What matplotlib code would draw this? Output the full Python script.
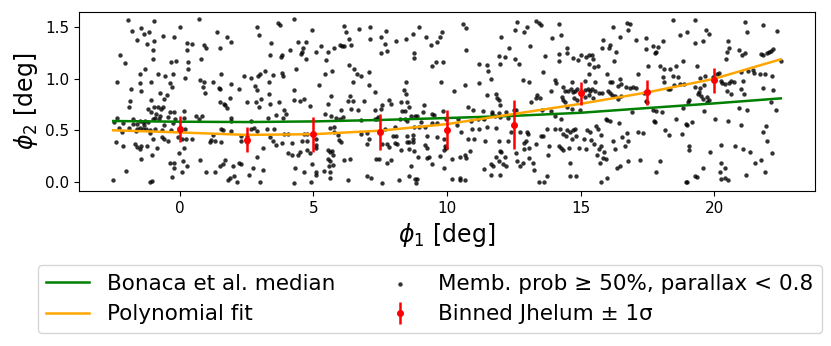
import matplotlib
matplotlib.use("Agg")
import matplotlib.pyplot as plt

# Member stars (phi1, phi2) in deg
members = [
    # phi1 -2.8 .. 0.3
    (-1.94, 1.57), (-0.97, 1.56), (0.01, 1.50), (-1.79, 1.46), (-1.47, 1.49), (-1.35, 1.44), (-1.17, 1.45),
    (-0.64, 1.42), (-0.21, 1.41), (-1.60, 1.38), (-1.24, 1.34), (-0.97, 1.37), (0.26, 1.35), (0.26, 1.28),
    (-1.02, 1.28), (-2.26, 1.23), (-1.02, 1.19), (-2.07, 1.15), (-0.35, 1.16), (-0.16, 1.17), (0.31, 1.16),
    (-1.31, 1.10), (0.30, 1.10), (-1.51, 1.05), (-0.81, 1.05), (-0.55, 1.03), (-0.27, 1.05), (0.19, 1.01),
    (-2.36, 0.97), (-1.49, 0.96), (-1.10, 0.97), (-0.38, 0.96), (-1.85, 0.90), (-0.31, 0.92), (-1.46, 0.88),
    (-0.73, 0.86), (-0.50, 0.84), (-1.86, 0.78), (-0.59, 0.80), (-1.09, 0.79), (-1.89, 0.73), (-1.19, 0.71),
    (-0.96, 0.73), (-0.81, 0.73), (-0.62, 0.73), (-0.70, 0.71), (-0.36, 0.68), (-0.24, 0.68), (0.14, 0.69),
    (-0.90, 0.66), (-1.07, 0.68), (-2.36, 0.62), (-0.44, 0.63), (-0.19, 0.61), (0.14, 0.62), (-1.76, 0.61),
    (-1.50, 0.59), (-1.29, 0.59), (-1.19, 0.58), (-1.02, 0.61), (-0.94, 0.62), (-0.80, 0.61), (-0.73, 0.64),
    (-2.46, 0.58), (-2.14, 0.57), (-1.76, 0.56), (-1.59, 0.56), (-1.39, 0.58), (-0.61, 0.55), (-0.25, 0.57),
    (-1.34, 0.55), (-2.29, 0.52), (-1.91, 0.52), (-1.59, 0.51), (-1.49, 0.52), (-1.39, 0.51), (-1.26, 0.51),
    (-1.14, 0.50), (-0.94, 0.51), (-0.66, 0.50), (-0.34, 0.50), (0.19, 0.51), (-2.16, 0.48), (-1.66, 0.49),
    (-1.11, 0.47), (-1.02, 0.42), (-0.66, 0.43), (-0.59, 0.42), (-0.44, 0.40), (-2.41, 0.39), (-1.70, 0.37),
    (-1.46, 0.35), (-1.24, 0.35), (-0.86, 0.33), (-0.06, 0.43), (0.06, 0.42), (0.24, 0.42), (-2.14, 0.35),
    (-1.61, 0.34), (-1.51, 0.32), (0.14, 0.33), (-1.44, 0.22), (-1.05, 0.26), (-0.05, 0.28), (-0.36, 0.18),
    (-0.21, 0.18), (0.11, 0.20), (-0.24, 0.13), (0.26, 0.15), (-2.01, 0.10), (0.09, 0.09), (-0.31, 0.05),
    (-2.51, 0.02), (-1.14, 0.00), (-1.06, 0.01),
    # phi1 0.3 .. 3.4
    (0.70, 1.58), (2.90, 1.50), (2.97, 1.43), (1.37, 1.45), (1.76, 1.41), (1.92, 1.36), (0.47, 1.34),
    (0.90, 1.33), (0.99, 1.30), (1.50, 1.30), (3.40, 1.35), (0.80, 1.19), (3.37, 1.23), (1.55, 1.05),
    (2.40, 1.03), (2.65, 1.01), (2.92, 1.03), (3.00, 1.05), (3.17, 1.08), (0.75, 0.99), (0.90, 0.97),
    (1.25, 0.97), (1.90, 0.95), (1.47, 0.91), (1.50, 0.90), (2.22, 0.90), (2.82, 0.93), (2.87, 0.89),
    (3.35, 0.97), (0.85, 0.92), (0.95, 0.86), (3.35, 0.85), (1.87, 0.81), (3.02, 0.80), (1.50, 0.77),
    (1.65, 0.76), (1.70, 0.75), (1.75, 0.72), (2.52, 0.77), (2.85, 0.77), (2.97, 0.73), (3.37, 0.76),
    (0.60, 0.64), (0.82, 0.64), (0.70, 0.61), (1.92, 0.62), (1.92, 0.59), (2.67, 0.59), (3.30, 0.62),
    (1.52, 0.51), (1.62, 0.50), (1.92, 0.49), (1.22, 0.45), (2.65, 0.51), (2.77, 0.52), (2.90, 0.49),
    (3.27, 0.51), (2.30, 0.44), (2.30, 0.40), (2.50, 0.44), (2.52, 0.39), (0.47, 0.42), (1.12, 0.39),
    (1.30, 0.40), (1.52, 0.39), (1.17, 0.41), (3.37, 0.43), (3.12, 0.33), (2.90, 0.24), (0.75, 0.21),
    (1.70, 0.21), (1.62, 0.17), (1.50, 0.15), (1.97, 0.15), (2.22, 0.18), (2.30, 0.17), (2.72, 0.13),
    (3.10, 0.11), (0.97, 0.09), (1.32, 0.09), (2.02, 0.06), (1.80, 0.02), (1.87, 0.04), (2.60, 0.07),
    (2.15, 0.00), (3.00, 0.00),
    # phi1 3.4 .. 6.5
    (4.28, 1.58), (3.66, 1.54), (3.76, 1.52), (4.93, 1.47), (6.16, 1.51), (6.23, 1.45), (6.33, 1.39),
    (4.43, 1.36), (4.71, 1.36), (4.61, 1.30), (4.56, 1.26), (4.53, 1.24), (4.71, 1.19), (5.08, 1.26),
    (5.28, 1.32), (5.78, 1.30), (5.98, 1.33), (6.08, 1.32), (6.16, 1.32), (6.41, 1.33), (5.53, 1.26),
    (4.11, 1.28), (3.81, 1.23), (3.78, 1.21), (5.46, 1.18), (6.33, 1.13), (4.33, 1.10), (3.48, 1.04),
    (3.83, 1.06), (3.86, 1.03), (5.43, 1.05), (5.68, 1.08), (6.51, 1.10), (6.48, 0.97), (5.21, 0.94),
    (4.26, 0.89), (5.66, 0.83), (6.38, 0.83), (6.48, 0.78), (6.31, 0.78), (4.26, 0.79), (4.51, 0.78),
    (4.63, 0.80), (4.86, 0.74), (5.53, 0.76), (3.71, 0.77), (3.91, 0.70), (3.96, 0.66), (3.86, 0.62),
    (3.58, 0.65), (6.03, 0.70), (6.41, 0.71), (5.86, 0.62), (6.01, 0.61), (5.43, 0.66), (5.66, 0.64),
    (6.11, 0.63), (3.53, 0.51), (5.61, 0.52), (5.78, 0.53), (3.91, 0.46), (3.83, 0.38), (3.61, 0.36),
    (3.48, 0.40), (4.06, 0.46), (4.63, 0.46), (4.76, 0.46), (4.58, 0.40), (4.76, 0.40), (5.78, 0.48),
    (5.91, 0.45), (5.96, 0.41), (6.03, 0.39), (4.21, 0.38), (5.11, 0.42), (5.11, 0.36), (5.08, 0.33),
    (4.76, 0.31), (4.51, 0.29), (4.88, 0.28), (4.06, 0.28), (4.18, 0.26), (4.43, 0.26), (5.53, 0.31),
    (5.61, 0.29), (5.71, 0.30), (5.73, 0.26), (5.53, 0.22), (5.61, 0.20), (6.16, 0.21), (6.38, 0.22),
    (4.93, 0.17), (4.31, 0.13), (4.66, 0.09), (5.11, 0.09), (5.11, 0.07), (5.38, 0.10), (5.58, 0.15),
    (5.73, 0.16), (5.61, 0.09), (5.61, 0.04), (6.31, 0.02), (4.28, -0.01), (4.91, 0.00),
    # phi1 6.5 .. 9.6
    (6.69, 1.48), (7.12, 1.50), (7.12, 1.39), (7.52, 1.41), (7.72, 1.46), (8.09, 1.37), (8.47, 1.39),
    (8.72, 1.44), (8.94, 1.50), (9.22, 1.41), (9.39, 1.33), (9.62, 1.36), (7.69, 1.34), (7.74, 1.27),
    (7.54, 1.25), (8.77, 1.25), (8.77, 1.20), (9.59, 1.16), (9.44, 1.12), (6.62, 1.05), (6.77, 1.03),
    (7.09, 1.07), (7.09, 0.94), (7.29, 0.87), (8.47, 0.97), (8.39, 0.89), (8.47, 0.85), (6.89, 0.78),
    (7.82, 0.79), (7.89, 0.76), (7.57, 0.75), (8.27, 0.77), (8.52, 0.77), (8.42, 0.69), (8.57, 0.73),
    (8.32, 0.69), (6.67, 0.70), (7.29, 0.70), (7.52, 0.71), (9.14, 0.75), (8.64, 0.64), (8.79, 0.64),
    (8.89, 0.64), (9.12, 0.68), (9.44, 0.66), (9.52, 0.65), (8.44, 0.61), (8.52, 0.59), (8.24, 0.61),
    (9.02, 0.58), (6.77, 0.60), (7.32, 0.61), (7.42, 0.63), (7.37, 0.61), (8.77, 0.53), (8.97, 0.53),
    (9.19, 0.53), (9.42, 0.57), (9.62, 0.57), (7.67, 0.51), (8.04, 0.53), (6.77, 0.46), (7.02, 0.47),
    (7.07, 0.42), (7.99, 0.44), (8.09, 0.44), (8.52, 0.44), (8.74, 0.45), (9.24, 0.44), (9.62, 0.43),
    (6.99, 0.37), (7.57, 0.37), (7.74, 0.37), (7.82, 0.34), (8.04, 0.38), (8.12, 0.37), (8.49, 0.39),
    (8.59, 0.39), (8.74, 0.42), (8.74, 0.39), (8.29, 0.31), (8.59, 0.32), (8.77, 0.30), (9.19, 0.36),
    (9.24, 0.33), (7.34, 0.22), (7.44, 0.22), (7.89, 0.21), (7.77, 0.18), (8.92, 0.24), (9.24, 0.23),
    (9.32, 0.24), (8.67, 0.15), (9.44, 0.17), (6.99, 0.06), (7.14, 0.04), (7.57, -0.01), (8.19, 0.02),
    (8.57, 0.06), (8.79, 0.03), (8.84, -0.01), (8.89, 0.03),
    # phi1 9.6 .. 12.7
    (10.60, 1.53), (10.70, 1.49), (12.63, 1.55), (12.55, 1.47), (9.75, 1.41), (9.83, 1.45), (12.03, 1.41),
    (12.33, 1.30), (10.73, 1.28), (11.95, 1.22), (12.18, 1.21), (12.55, 1.19), (12.70, 1.14), (9.85, 1.16),
    (11.18, 1.14), (11.48, 1.13), (11.55, 1.08), (11.98, 1.14), (9.78, 0.97), (11.20, 0.96), (11.63, 1.00),
    (10.68, 0.94), (10.25, 0.88), (11.50, 0.84), (11.83, 0.85), (11.88, 0.81), (11.93, 0.79), (11.98, 0.75),
    (9.85, 0.69), (10.78, 0.73), (10.98, 0.70), (11.33, 0.69), (11.70, 0.68), (11.93, 0.67), (12.20, 0.68),
    (12.50, 0.70), (12.60, 0.70), (9.95, 0.61), (10.43, 0.61), (10.88, 0.59), (11.15, 0.61), (11.33, 0.62),
    (11.38, 0.61), (11.68, 0.66), (11.78, 0.64), (11.98, 0.63), (12.28, 0.62), (10.38, 0.55), (10.93, 0.51),
    (11.20, 0.51), (11.50, 0.53), (11.83, 0.52), (10.53, 0.48), (9.90, 0.42), (10.78, 0.42), (11.00, 0.42),
    (11.43, 0.40), (11.95, 0.40), (12.28, 0.40), (12.40, 0.48), (12.75, 0.48), (9.93, 0.35), (9.98, 0.33),
    (9.88, 0.31), (9.73, 0.25), (10.85, 0.30), (11.98, 0.30), (12.03, 0.29), (11.83, 0.24), (12.18, 0.24),
    (12.60, 0.28), (12.63, 0.20), (10.18, 0.22), (10.50, 0.24), (10.68, 0.26), (10.70, 0.23), (9.88, 0.13),
    (11.63, 0.17), (11.73, 0.15), (11.93, 0.20), (12.10, 0.17), (12.20, 0.15), (12.73, 0.15), (11.38, 0.12),
    (11.98, 0.07), (10.20, 0.03), (10.48, 0.04), (10.50, 0.02), (10.68, 0.02), (11.63, 0.07),
    # phi1 12.7 .. 15.8
    (13.35, 1.56), (13.45, 1.54), (13.53, 1.52), (14.20, 1.53), (12.98, 1.50), (12.90, 1.45), (14.28, 1.43),
    (13.93, 1.40), (13.10, 1.32), (14.50, 1.30), (15.80, 1.30), (15.83, 1.38), (13.68, 1.22), (14.18, 1.24),
    (14.48, 1.25), (15.03, 1.23), (15.20, 1.21), (15.33, 1.23), (15.43, 1.23), (14.73, 1.20), (14.90, 1.18),
    (14.20, 1.17), (15.48, 1.19), (15.30, 1.14), (15.50, 1.11), (15.65, 1.12), (13.60, 1.07), (15.30, 1.05),
    (12.85, 0.99), (13.08, 0.97), (14.03, 0.99), (14.10, 0.96), (14.68, 0.97), (15.15, 0.98), (15.55, 0.97),
    (14.35, 0.92), (14.40, 0.88), (14.53, 0.88), (14.63, 0.90), (14.70, 0.87), (14.80, 0.88), (14.88, 0.90),
    (15.15, 0.89), (15.28, 0.90), (15.35, 0.88), (15.43, 0.90), (15.55, 0.88), (15.70, 0.86), (15.80, 0.86),
    (13.88, 0.88), (13.38, 0.84), (13.48, 0.81), (13.33, 0.81), (13.13, 0.77), (14.30, 0.82), (14.35, 0.79),
    (14.43, 0.77), (14.75, 0.81), (14.85, 0.79), (15.18, 0.82), (15.33, 0.84), (15.45, 0.81), (14.50, 0.73),
    (14.68, 0.71), (14.98, 0.70), (13.55, 0.70), (13.90, 0.69), (14.05, 0.64), (14.28, 0.61), (12.98, 0.48),
    (12.95, 0.40), (13.03, 0.46), (13.73, 0.51), (14.03, 0.51), (14.25, 0.51), (14.35, 0.46), (14.50, 0.50),
    (14.60, 0.48), (14.70, 0.50), (14.83, 0.44), (14.68, 0.42), (14.45, 0.44), (14.80, 0.51), (15.13, 0.42),
    (15.25, 0.50), (15.35, 0.48), (15.38, 0.41), (15.58, 0.54), (15.65, 0.51), (15.78, 0.45), (13.53, 0.44),
    (13.58, 0.44), (12.90, 0.38), (12.88, 0.32), (13.08, 0.33), (13.33, 0.37), (13.83, 0.35), (14.20, 0.35),
    (14.28, 0.33), (14.33, 0.31), (14.58, 0.33), (14.95, 0.33), (15.20, 0.32), (15.50, 0.37), (15.70, 0.32),
    (15.78, 0.35), (13.08, 0.23), (12.85, 0.18), (13.23, 0.18), (13.25, 0.11), (13.80, 0.26), (14.60, 0.18),
    (15.63, 0.26), (15.83, 0.23), (15.73, 0.18), (14.60, 0.06), (14.83, 0.06), (15.78, 0.00), (13.43, 0.00),
    (13.65, 0.00), (13.75, 0.06),
    # phi1 15.8 .. 18.9
    (16.21, 1.50), (16.74, 1.54), (16.86, 1.53), (16.76, 1.47), (16.46, 1.41), (18.46, 1.57), (18.74, 1.43),
    (17.44, 1.40), (17.09, 1.38), (18.09, 1.37), (16.11, 1.33), (16.06, 1.30), (16.34, 1.26), (17.44, 1.29),
    (17.71, 1.32), (17.91, 1.31), (17.84, 1.26), (17.79, 1.25), (16.26, 1.17), (18.84, 1.17), (17.54, 1.12),
    (17.99, 1.12), (18.14, 1.10), (18.34, 1.10), (18.59, 1.12), (18.64, 1.02), (18.46, 1.03), (18.09, 1.02),
    (18.14, 0.97), (15.99, 1.05), (17.16, 1.05), (16.09, 0.97), (16.19, 0.97), (16.46, 1.00), (16.51, 0.95),
    (16.41, 0.93), (16.71, 0.92), (16.84, 0.91), (16.96, 0.92), (17.09, 0.91), (18.29, 0.90), (18.36, 0.90),
    (18.49, 0.94), (18.71, 0.95), (18.89, 0.95), (16.04, 0.88), (16.11, 0.86), (16.16, 0.84), (16.29, 0.83),
    (16.41, 0.80), (16.51, 0.83), (17.39, 0.86), (17.46, 0.78), (17.49, 0.77), (16.91, 0.68), (17.71, 0.70),
    (17.84, 0.69), (18.04, 0.68), (18.84, 0.72), (15.94, 0.61), (16.01, 0.60), (16.11, 0.59), (16.44, 0.57),
    (17.74, 0.59), (17.79, 0.58), (18.56, 0.61), (18.94, 0.56), (17.14, 0.48), (17.34, 0.47), (18.16, 0.50),
    (18.31, 0.45), (18.79, 0.46), (16.54, 0.43), (16.76, 0.40), (16.74, 0.47), (16.21, 0.40), (16.66, 0.35),
    (16.29, 0.32), (15.89, 0.29), (15.96, 0.22), (16.76, 0.20), (17.21, 0.21), (17.96, 0.20), (16.49, 0.15),
    (16.36, 0.13), (17.81, 0.09), (15.99, 0.04), (18.96, 0.00),
    # phi1 18.9 .. 22.5
    (19.30, 1.57), (21.15, 1.55), (21.85, 1.52), (18.97, 1.45), (19.70, 1.47), (19.80, 1.44), (21.25, 1.45),
    (22.35, 1.46), (19.30, 1.35), (19.57, 1.37), (20.52, 1.37), (20.57, 1.30), (20.47, 1.26), (20.45, 1.19),
    (20.95, 1.28), (21.15, 1.25), (21.05, 1.23), (21.75, 1.24), (21.85, 1.23), (22.00, 1.25), (22.07, 1.26),
    (22.22, 1.29), (22.15, 1.27), (19.35, 1.12), (22.50, 1.17), (20.17, 1.06), (20.10, 1.05), (19.47, 1.01),
    (19.65, 1.03), (19.95, 1.02), (21.02, 1.07), (21.27, 1.08), (21.45, 1.09), (21.50, 1.06), (21.72, 1.05),
    (21.90, 1.05), (22.17, 1.03), (19.27, 0.92), (19.47, 0.91), (19.62, 0.94), (19.45, 0.87), (19.40, 0.85),
    (19.52, 0.83), (19.57, 0.80), (19.75, 0.82), (20.25, 0.98), (20.30, 0.96), (20.40, 0.95), (20.55, 0.96),
    (20.62, 0.98), (20.75, 0.97), (21.10, 0.98), (21.02, 0.90), (21.12, 0.85), (21.85, 0.91), (22.20, 0.89),
    (20.50, 0.88), (20.62, 0.85), (19.07, 0.79), (19.02, 0.77), (19.80, 0.79), (19.75, 0.77), (20.92, 0.72),
    (21.22, 0.70), (22.15, 0.77), (22.32, 0.70), (19.62, 0.69), (20.05, 0.61), (19.17, 0.58), (20.52, 0.59),
    (21.00, 0.55), (18.97, 0.55), (21.95, 0.54), (21.82, 0.48), (21.97, 0.40), (19.05, 0.35), (19.07, 0.31),
    (19.85, 0.29), (20.27, 0.36), (20.77, 0.35), (21.10, 0.32), (21.35, 0.29), (22.17, 0.28), (21.55, 0.18),
    (21.77, 0.21), (20.25, 0.18), (20.22, 0.09), (20.40, 0.13), (19.57, 0.13), (19.27, 0.06), (19.35, 0.05),
    (21.20, 0.07), (21.92, 0.09), (20.27, 0.03), (20.42, 0.04), (20.52, 0.02), (19.00, 0.00),
]

# Bonaca et al. median track
bonaca_phi1 = [-2.5, 0.0, 2.5, 5.0, 7.5, 10.0, 12.5, 15.0, 17.5, 20.0, 22.5]
bonaca_phi2 = [0.59, 0.583, 0.58, 0.586, 0.60, 0.619, 0.64, 0.67, 0.716, 0.761, 0.81]

# Polynomial fit track
poly_phi1 = [-2.5, 0.0, 2.5, 5.0, 7.5, 10.0, 12.5, 15.0, 17.5, 20.0, 22.5]
poly_phi2 = [0.50, 0.479, 0.455, 0.462, 0.496, 0.56, 0.658, 0.757, 0.868, 1.00, 1.19]

# Binned Jhelum points
bin_phi1 = [0.0, 2.5, 5.0, 7.5, 10.0, 12.5, 15.0, 17.5, 20.0]
bin_phi2 = [0.51, 0.41, 0.46, 0.485, 0.505, 0.555, 0.86, 0.87, 0.985]
bin_err = [0.125, 0.12, 0.17, 0.175, 0.19, 0.235, 0.11, 0.12, 0.12]

xticks = [0, 5, 10, 15, 20]
yticks = [0.0, 0.5, 1.0, 1.5]

mem_phi1 = [p[0] for p in members]
mem_phi2 = [p[1] for p in members]

W, H = 831, 346
fig = plt.figure(figsize=(W / 100, H / 100), dpi=100)
ax = fig.add_axes([79 / W, 1 - 191 / H, (815 - 79) / W, (191 - 11.7) / H])

sc = ax.scatter(mem_phi1, mem_phi2, s=10, color="black", alpha=0.8, linewidths=0,
                label="Memb. prob \u2265 50%, parallax < 0.8", zorder=1)
l1, = ax.plot(bonaca_phi1, bonaca_phi2, color="green", lw=1.8, label="Bonaca et al. median", zorder=2)
l2, = ax.plot(poly_phi1, poly_phi2, color="orange", lw=1.8, label="Polynomial fit", zorder=2)
eb = ax.errorbar(bin_phi1, bin_phi2, yerr=bin_err, fmt="o", color="red", ms=4,
                 elinewidth=1.8, label="Binned Jhelum \u00b1 1\u03c3", zorder=3)

ax.set_xlim(-3.78, 23.78)
ax.set_ylim(-0.09, 1.652)
ax.set_xticks(xticks)
ax.set_yticks(yticks)
ax.tick_params(labelsize=11)
ax.set_xlabel(r"$\phi_1$ [deg]", fontsize=17)
ax.set_ylabel(r"$\phi_2$ [deg]", fontsize=17)

fig.legend(handles=[l1, l2, sc, eb], ncol=2, fontsize=15.5, loc="upper left",
           bbox_to_anchor=(37.7 / W, 1 - 265 / H), borderaxespad=0)

fig.savefig("out.png", dpi=100)
